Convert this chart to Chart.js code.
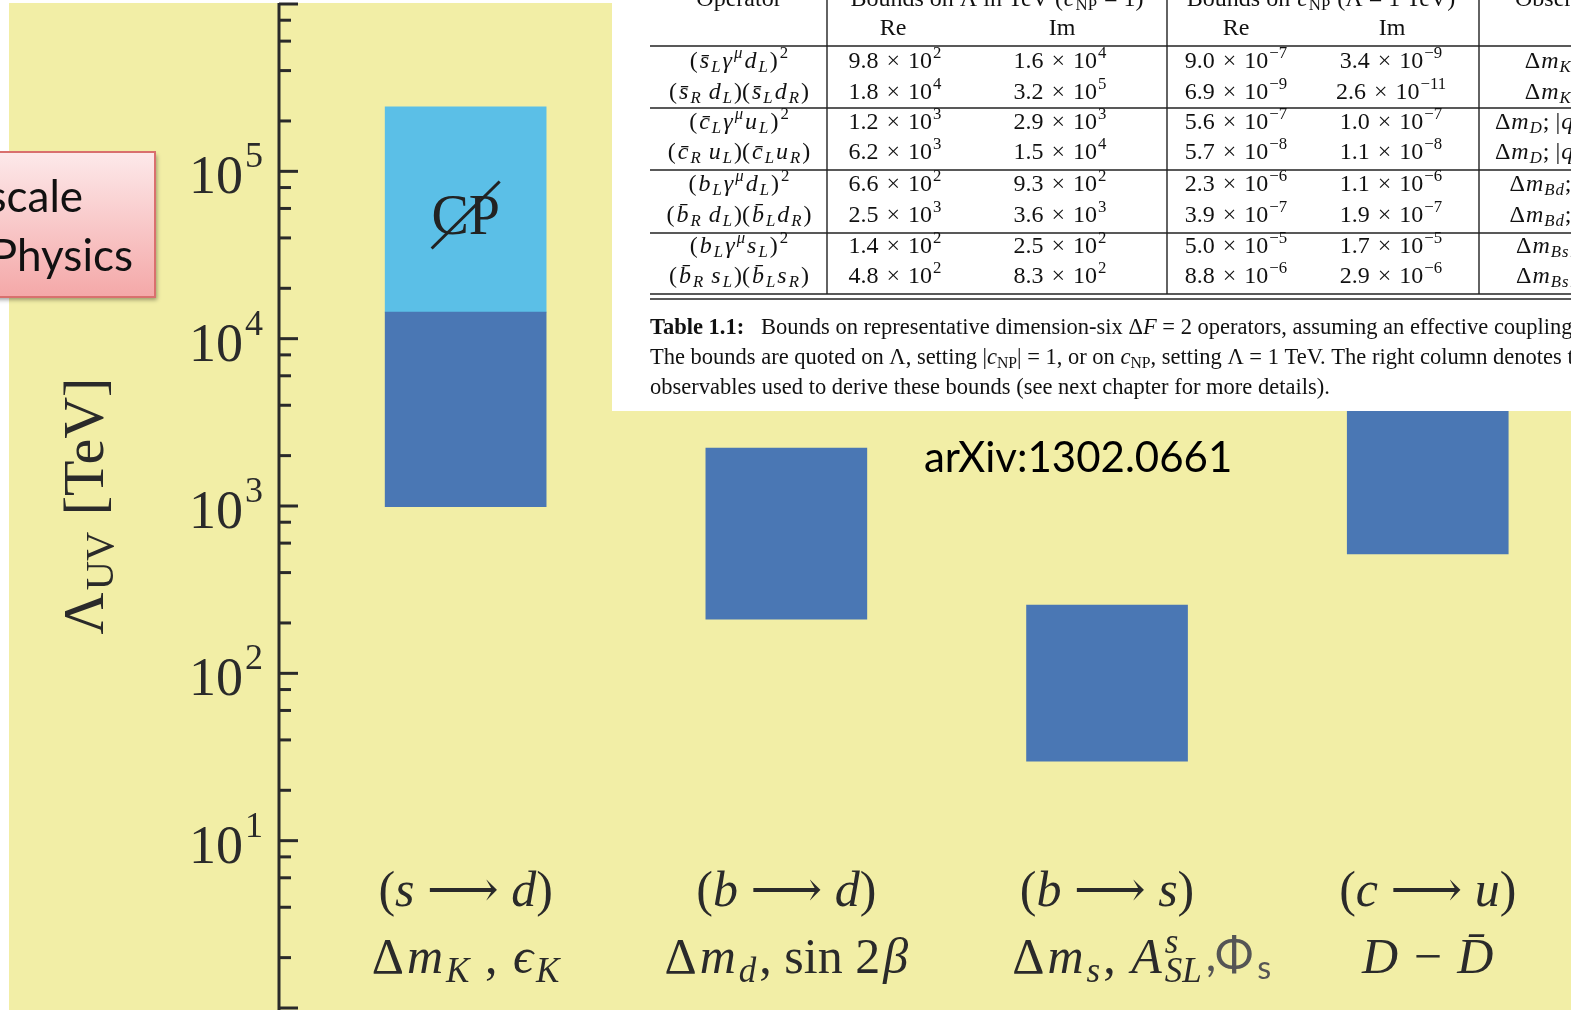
<!DOCTYPE html>
<html>
<head>
<meta charset="utf-8">
<script src="https://cdn.jsdelivr.net/npm/chart.js@4/dist/chart.umd.min.js"></script>
<style>html,body{margin:0;padding:0;background:#fff;overflow:hidden}canvas{display:block}</style>
</head>
<body>
<canvas id="c" width="1571" height="1010"></canvas>
<script>
// chart values
var cats=['s→d','b→d','b→s','c→u'];
var catX=[0,1,2,3];
var darkLow=[990,211,29.9,517];
var darkHigh=[14400,2220,256,10000];
var lightLow=[14400];
var lightHigh=[243000];
var yTickExp=[1,2,3,4,5];
var yMinor=[2,4,6,8];
var yMin=1,yMax=1e6;

// table on the slide
var reL=[[9.8,2],[1.8,4],[1.2,3],[6.2,3],[6.6,2],[2.5,3],[1.4,2],[4.8,2]];
var imL=[[1.6,4],[3.2,5],[2.9,3],[1.5,4],[9.3,2],[3.6,3],[2.5,2],[8.3,2]];
var reC=[[9.0,-7],[6.9,-9],[5.6,-7],[5.7,-8],[2.3,-6],[3.9,-7],[5.0,-5],[8.8,-6]];
var imC=[[3.4,-9],[2.6,-11],[1.0,-7],[1.1,-8],[1.1,-6],[1.9,-7],[1.7,-5],[2.9,-6]];
var rowY=[68,99,129,159,191,222,253,283];

var SERIF='"Liberation Serif", "DejaVu Serif", serif';
var SANS='Lato, "Open Sans", sans-serif';

function rich(ctx,parts,x,y,size,fam,align,color,gap){
    var items=[],total=0;gap=gap||0;
    parts.forEach(function(p){
        var t=p[0],f=p[1]||'',s=size,dy=0;
        if(f.indexOf('^')>=0){s=size*0.7;dy=-size*0.4;}
        if(f.indexOf('_')>=0){s=size*0.7;dy=size*0.18;}
        var font=(f.indexOf('i')>=0?'italic ':'')+(f.indexOf('b')>=0?'bold ':'')+s.toFixed(1)+'px '+(p[2]||fam);
        ctx.font=font;
        var w=ctx.measureText(t).width;
        var adv=f.indexOf('=')>=0?0:w+gap;
        items.push({t:t,font:font,dy:dy,adv:adv,col:p[3]});
        total+=adv;
    });
    total-=gap;
    var sx=align==='center'?x-total/2:(align==='right'?x-total:x);
    ctx.textBaseline='alphabetic';ctx.textAlign='left';
    items.forEach(function(it){ctx.font=it.font;ctx.fillStyle=it.col||color;ctx.fillText(it.t,sx,y+it.dy);sx+=it.adv;});
    return total;
}
function sci(v){
    var e=v[1]<0?'\u2212'+(-v[1]):''+v[1];
    return [[v[0].toFixed(1)+'\u2004\u00d7\u200410',''],[e,'^']];
}

var ops=[
 [['(',''],['s\u0304','i'],['L','i_'],['\u03b3','i'],['\u03bc','i^'],['d','i'],['L','i_'],[')',''],['2','^']],
 [['(',''],['s\u0304','i'],['R','i_'],[' d','i'],['L','i_'],[')(',''],['s\u0304','i'],['L','i_'],['d','i'],['R','i_'],[')','']],
 [['(',''],['c\u0304','i'],['L','i_'],['\u03b3','i'],['\u03bc','i^'],['u','i'],['L','i_'],[')',''],['2','^']],
 [['(',''],['c\u0304','i'],['R','i_'],[' u','i'],['L','i_'],[')(',''],['c\u0304','i'],['L','i_'],['u','i'],['R','i_'],[')','']],
 [['(',''],['b','i'],['L','i_'],['\u03b3','i'],['\u03bc','i^'],['d','i'],['L','i_'],[')',''],['2','^']],
 [['(',''],['b\u0304','i'],['R','i_'],[' d','i'],['L','i_'],[')(',''],['b\u0304','i'],['L','i_'],['d','i'],['R','i_'],[')','']],
 [['(',''],['b','i'],['L','i_'],['\u03b3','i'],['\u03bc','i^'],['s','i'],['L','i_'],[')',''],['2','^']],
 [['(',''],['b\u0304','i'],['R','i_'],[' s','i'],['L','i_'],[')(',''],['b\u0304','i'],['L','i_'],['s','i'],['R','i_'],[')','']]
];
var obs=[
 [['\u0394',''],['m','i'],['K','i_'],['; ',''],['\u03f5','i'],['K','i_']],
 [['\u0394',''],['m','i'],['D','i_'],['; |',''],['q/p','i'],['|, ',''],['\u03c6','i'],['D','i_']],
 [['\u0394',''],['m','i'],['B','i_'],['d','i_'],['; ',''],['S','i'],['\u03c8K','i_'],['S','i_']],
 [['\u0394',''],['m','i'],['B','i_'],['s','i_'],['; ',''],['S','i'],['\u03c8\u03c6','i_']]
];
var lab1=[
 [['(',''],['s','i'],[' \u27f6 ',''],['d','i'],[')','']],
 [['(',''],['b','i'],[' \u27f6 ',''],['d','i'],[')','']],
 [['(',''],['b','i'],[' \u27f6 ',''],['s','i'],[')','']],
 [['(',''],['c','i'],[' \u27f6 ',''],['u','i'],[')','']]
];
var lab2=[
 [['\u0394',''],['m','i'],['K','i_'],[' , ',''],['\u03f5','i'],['K','i_']],
 [['\u0394',''],['m','i'],['d','i_'],[', sin 2',''],['\u03b2','i']],
 [['\u0394',''],['m','i'],['s','i_'],[', ',''],['A','i'],['s','i^='],['SL','i_']],
 [['D','i'],[' \u2212 ',''],['D\u0304','i']]
];

var slide={
    id:'slide',
    beforeDraw:function(ch){
        var c=ch.ctx;
        c.save();
        c.fillStyle='#ffffff';c.fillRect(0,0,ch.width,ch.height);
        c.fillStyle='#f2eea6';c.fillRect(9,3,ch.width-9,ch.height-3);
        c.restore();
    },
    afterDraw:function(ch){
        var c=ch.ctx,xs=ch.scales.x,ys=ch.scales.y,ax=ch.chartArea.left;
        c.save();
        // CP slashed
        var xc=xs.getPixelForValue(catX[0]);
        var ym=(ys.getPixelForValue(lightLow[0])+ys.getPixelForValue(lightHigh[0]))/2;
        c.fillStyle='#222';c.font='56px '+SERIF;c.textAlign='center';c.textBaseline='alphabetic';
        c.fillText('CP',xc,ym+25);
        c.strokeStyle='#222';c.lineWidth=3;
        c.beginPath();c.moveTo(xc-34,ym+39);c.lineTo(xc+34,ym-28);c.stroke();

        // y axis
        c.strokeStyle='#2a2a2a';c.lineWidth=3;
        c.beginPath();c.moveTo(ax,ys.getPixelForValue(yMax)-1);c.lineTo(ax,ch.height);c.stroke();
        for(var e=0;e<=6;e++){
            var p=ys.getPixelForValue(Math.pow(10,e));
            c.beginPath();c.moveTo(ax,p);c.lineTo(ax+19,p);c.stroke();
            if(e<6){
                yMinor.forEach(function(m){
                    var q=ys.getPixelForValue(m*Math.pow(10,e));
                    c.beginPath();c.moveTo(ax,q);c.lineTo(ax+12,q);c.stroke();
                });
            }
        }
        yTickExp.forEach(function(e){
            var p=ys.getPixelForValue(Math.pow(10,e));
            c.fillStyle='#2a2a2a';c.textAlign='right';c.textBaseline='alphabetic';
            c.font='36px '+SERIF;c.fillText(''+e,263,p-4);
            var w=c.measureText(''+e).width;
            c.font='54px '+SERIF;c.fillText('10',263-w-2,p+22);
        });
        // axis title
        c.save();c.translate(103,506);c.rotate(-Math.PI/2);
        rich(c,[['\u039b',''],['UV','_'],[' [TeV]','']],0,0,58,SERIF,'center','#2a2a2a',2);
        c.restore();

        // category labels
        for(var i=0;i<cats.length;i++){
            var xp=xs.getPixelForValue(catX[i]);
            rich(c,lab1[i],xp,906,50,SERIF,'center','#2a2a2a');
            var w2=rich(c,lab2[i],xp,973,50,SERIF,'center','#2a2a2a',3);
            if(i===2){
                rich(c,[[',\u03a6','',SANS,'#555'],['s','_',SANS,'#555']],xp+w2/2+4,971,46,SANS,'left','#555',4);
            }
        }

        // pink box
        c.save();
        c.shadowColor='rgba(0,0,0,0.35)';c.shadowBlur=4;c.shadowOffsetX=2;c.shadowOffsetY=3;
        var g=c.createLinearGradient(0,152,0,297);
        g.addColorStop(0,'#fde9ea');g.addColorStop(1,'#f4a8a8');
        c.fillStyle=g;c.fillRect(-10,152,165,145);
        c.restore();
        c.strokeStyle='#d9706e';c.lineWidth=2;c.strokeRect(-10,152,165,145);
        c.fillStyle='#111';c.font='44px '+SANS;c.textAlign='right';c.textBaseline='alphabetic';
        c.fillText('scale',83,212);
        c.fillText('Physics',133,271);

        // table from the paper
        c.fillStyle='#ffffff';c.fillRect(612,0,ch.width-612,411);
        c.strokeStyle='#222';c.lineWidth=1.4;
        [46,108,170,233,294,299].forEach(function(h){c.beginPath();c.moveTo(650,h);c.lineTo(ch.width,h);c.stroke();});
        [827,1167,1479].forEach(function(v){c.beginPath();c.moveTo(v,0);c.lineTo(v,294);c.stroke();});
        var TS=24;
        rich(c,[['Operator','']],739,6,TS,SERIF,'center','#111');
        rich(c,[['Bounds on \u039b in TeV (',''],['c','i'],['NP','_'],[' = 1)','']],997,6,TS,SERIF,'center','#111',1);
        rich(c,[['Bounds on ',''],['c','i'],['NP','_'],[' (\u039b = 1 TeV)','']],1321,6,TS,SERIF,'center','#111',1);
        rich(c,[['Observables','']],1515,6,TS,SERIF,'left','#111');
        rich(c,[['Re','']],893,35,TS,SERIF,'center','#111');
        rich(c,[['Im','']],1062,35,TS,SERIF,'center','#111');
        rich(c,[['Re','']],1236,35,TS,SERIF,'center','#111');
        rich(c,[['Im','']],1392,35,TS,SERIF,'center','#111');
        for(var r=0;r<8;r++){
            var by=rowY[r];
            rich(c,ops[r],739,by,TS,SERIF,'center','#111',2);
            rich(c,sci(reL[r]),895,by,TS,SERIF,'center','#111',1);
            rich(c,sci(imL[r]),1060,by,TS,SERIF,'center','#111',1);
            rich(c,sci(reC[r]),1236,by,TS,SERIF,'center','#111',1);
            rich(c,sci(imC[r]),1391,by,TS,SERIF,'center','#111',1);
            rich(c,obs[Math.floor(r/2)],1566,by,TS,SERIF,'center','#111',1);
        }
        var CS=22.5;
        rich(c,[['Table 1.1:','b'],['   Bounds on representative dimension-six ',''],['\u0394',''],['F','i'],[' = 2 operators, assuming an effective coupling 1/\u039b',''],['2','^'],['.','']],650,334,CS,SERIF,'left','#111');
        rich(c,[['The bounds are quoted on \u039b, setting |',''],['c','i'],['NP','_'],['| = 1, or on ',''],['c','i'],['NP','_'],[', setting \u039b = 1 TeV. The right column denotes the main','']],650,364,CS,SERIF,'left','#111');
        rich(c,[['observables used to derive these bounds (see next chapter for more details).','']],650,394,CS,SERIF,'left','#111');

        // reference
        c.fillStyle='#000';c.font='42px '+SANS;c.textAlign='left';c.textBaseline='alphabetic';
        c.fillText('arXiv:1302.0661',924,472);
        c.restore();
    }
};

var darkData=[],lightData=[];
for(var i=0;i<catX.length;i++)darkData.push({x:catX[i],y:[darkLow[i],darkHigh[i]]});
for(var j=0;j<lightLow.length;j++)lightData.push({x:catX[j],y:[lightLow[j],lightHigh[j]]});

new Chart(document.getElementById('c'),{
    type:'bar',
    data:{datasets:[
        {data:darkData,backgroundColor:'#4a77b4',borderWidth:0,barThickness:161,grouped:false},
        {data:lightData,backgroundColor:'#5bbfe7',borderWidth:0,barThickness:161,grouped:false}
    ]},
    options:{
        responsive:false,animation:false,
        layout:{padding:{left:279,top:4,right:0,bottom:2}},
        plugins:{legend:{display:false},tooltip:{enabled:false}},
        scales:{
            x:{type:'linear',min:-0.582,max:3.4467,offset:false,display:false},
            y:{type:'logarithmic',min:yMin,max:yMax,display:false}
        }
    },
    plugins:[slide]
});
</script>
</body>
</html>
